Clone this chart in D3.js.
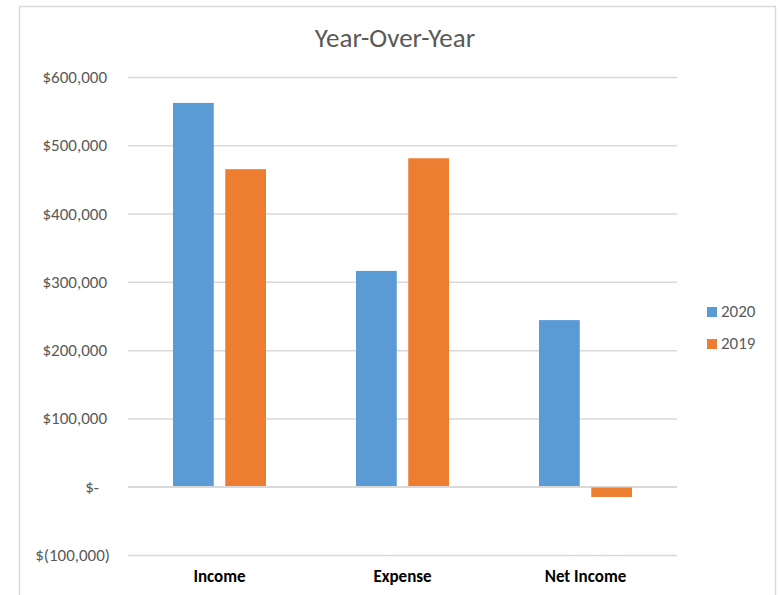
<!DOCTYPE html>
<html>
<head>
<meta charset="utf-8">
<script src="https://cdn.jsdelivr.net/npm/d3@7"></script>
<style>
  body { margin: 0; background: #fff; }
  svg { display: block; }
  svg text { font-family: Carlito, Calibri, "Open Sans", sans-serif; }
</style>
</head>
<body>
<div id="chart"></div>
<script>
// data
const categories = ['Income', 'Expense', 'Net Income'];
const seriesNames = ['2020', '2019'];
const values2020 = [562000, 316000, 244000];
const values2019 = [465000, 481000, -15000];
const yTicks = [-100000, 0, 100000, 200000, 300000, 400000, 500000, 600000];

const colors = { '2020': '#5b9bd5', '2019': '#ed7d31' };
const W = 780, H = 595;
const plot = { left: 128, right: 677, top: 77, bottom: 555 };
const FONT = 'Carlito, Calibri, "Open Sans", sans-serif';

const svg = d3.select('#chart').append('svg')
  .attr('width', W)
  .attr('height', H);

// chart frame
svg.append('path')
  .attr('d', `M19.5,${H} V6.5 H775.5 V${H}`)
  .attr('fill', 'none')
  .attr('stroke', '#d9d9d9')
  .attr('stroke-width', 1.5);

const x0 = d3.scaleBand().domain(categories).range([plot.left, plot.right]).padding(0);
const x1 = d3.scaleBand().domain(seriesNames).range([45, 138]).paddingInner(0.22);
const y = d3.scaleLinear().domain([-100000, 600000]).range([plot.bottom, plot.top]);

// accounting-style labels
const fmt = v => {
  if (v === 0) return '$-';
  const s = d3.format(',')(Math.abs(v));
  return v < 0 ? `$(${s})` : `$${s}`;
};

const yAxis = d3.axisLeft(y)
  .tickValues(yTicks)
  .tickSize(-(plot.right - plot.left))
  .tickFormat(fmt);

svg.append('g')
  .attr('transform', `translate(${plot.left},0)`)
  .call(yAxis)
  .attr('font-family', FONT)
  .attr('font-size', 17)
  .call(g => {
    g.select('.domain').remove();
    g.selectAll('.tick line').attr('stroke', '#d9d9d9').attr('stroke-width', 1.5);
    g.selectAll('.tick text')
      .attr('fill', '#595959')
      .attr('x', d => d === 0 ? -29 : (d < 0 ? -18 : -21))
      .attr('dy', '0.32em');
  });

// bars
const rows = categories.map((c, i) => ({ cat: c, vals: [
  { key: '2020', v: values2020[i] },
  { key: '2019', v: values2019[i] }
] }));

svg.append('g')
  .selectAll('g')
  .data(rows)
  .join('g')
  .attr('transform', d => `translate(${x0(d.cat)},0)`)
  .selectAll('rect')
  .data(d => d.vals)
  .join('rect')
  .attr('x', d => x1(d.key))
  .attr('width', x1.bandwidth())
  .attr('y', d => y(Math.max(0, d.v)))
  .attr('height', d => Math.abs(y(d.v) - y(0)))
  .attr('fill', d => colors[d.key]);

// zero line on top
svg.append('line')
  .attr('x1', plot.left).attr('x2', plot.right)
  .attr('y1', y(0)).attr('y2', y(0))
  .attr('stroke', '#d9d9d9')
  .attr('stroke-width', 1.5);

// x axis labels
const xAxis = d3.axisBottom(x0).tickSize(0);
svg.append('g')
  .attr('transform', `translate(0,${plot.bottom})`)
  .call(xAxis)
  .attr('font-family', FONT)
  .attr('font-size', 17)
  .call(g => {
    g.select('.domain').remove();
    g.selectAll('.tick text')
      .attr('fill', '#000')
      .attr('font-weight', 'bold')
      .attr('y', 27)
      .attr('dy', 0);
  });

// title
svg.append('text')
  .attr('x', 395)
  .attr('y', 47)
  .attr('text-anchor', 'middle')
  .attr('fill', '#595959')
  .attr('font-size', 27)
  .text('Year-Over-Year');

// legend
const legend = svg.append('g')
  .selectAll('g')
  .data(seriesNames)
  .join('g')
  .attr('transform', (d, i) => `translate(707,${307 + i * 32})`);

legend.append('rect')
  .attr('width', 10).attr('height', 10)
  .attr('fill', d => colors[d]);

legend.append('text')
  .attr('x', 14)
  .attr('y', 10)
  .attr('fill', '#595959')
  .attr('font-size', 17)
  .text(d => d);
</script>
</body>
</html>
